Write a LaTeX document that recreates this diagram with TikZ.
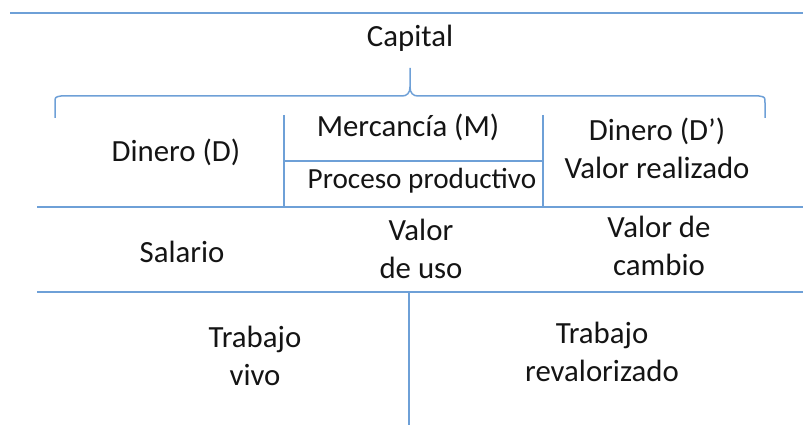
\documentclass[tikz,border=0pt]{standalone}
\usepackage{fontspec}
\setmainfont{Carlito}
\definecolor{rulecol}{RGB}{110,160,215}
\definecolor{txtcol}{RGB}{20,20,20}
\tikzset{
  rule/.style={line width=0.75pt, color=rulecol},
  lbl/.style={color=txtcol, align=center, inner sep=0pt,
    font=\fontsize{15.4pt}{19pt}\selectfont}
}

\begin{document}
\begin{tikzpicture}[x=0.5pt,y=-0.5pt]
  \useasboundingbox (0,0) rectangle (803,426);
  % top line
  \draw [rule] (10,13) -- (803,13);
  \node [lbl] (capital) at (410,38) {Capital};
  % brace under Capital
  \draw [rule] (55,118) -- (55,103) .. controls (55,97) .. (61,96) -- (402,96)
        .. controls (407,96) and (410,93) .. (410,87) -- (410,68)
        (410,87) .. controls (410,93) and (413,96) .. (418,96) -- (759,96)
        .. controls (765,97) .. (765,103) -- (765,118);
  % middle box (mercancia / proceso)
  \draw [rule] (284,115) -- (284,207);
  \draw [rule] (543,115) -- (543,207);
  \draw [rule] (284,161) -- (543,161);
  \node [lbl] (dinero) at (176,152) {Dinero (D)};
  \node [lbl] (mercancia) at (408,127) {Mercancía (M)};
  \node [lbl, font=\fontsize{14.6pt}{19pt}\selectfont] (proceso) at (422,181) {Proceso productivo};
  \node [lbl] (dineroprima) at (657,148) {Dinero (D’)\\Valor realizado};
  % second row
  \draw [rule] (37,207) -- (803,207);
  \node [lbl] (salario) at (182,252) {Salario};
  \node [lbl] (valoruso) at (421,249) {Valor\\de uso};
  \node [lbl] (valorcambio) at (659,246) {Valor de\\cambio};
  % third row
  \draw [rule] (37,292) -- (803,292);
  \draw [rule] (409,292) -- (409,425);
  \node [lbl] (vivo) at (255,356) {Trabajo\\vivo};
  \node [lbl] (revalorizado) at (602,352) {Trabajo\\revalorizado};
\end{tikzpicture}
\end{document}
